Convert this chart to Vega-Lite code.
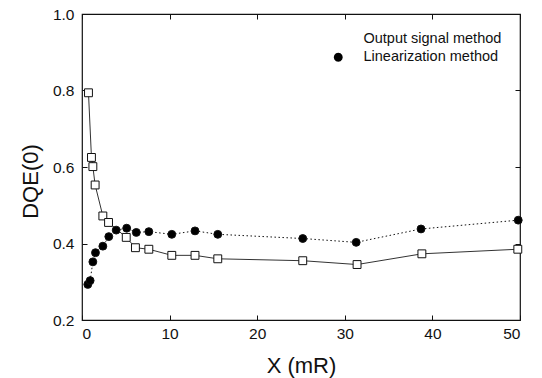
{
  "$schema": "https://vega.github.io/schema/vega-lite/v6.json",
  "width": 438,
  "height": 306,
  "autosize": {"type": "none"},
  "padding": {"left": 82, "top": 14, "right": 22, "bottom": 58},
  "background": "white",
  "config": {
    "font": "Liberation Sans",
    "view": {"stroke": "#111", "strokeWidth": 1.2},
    "axis": {"grid": false, "domain": false, "tickColor": "#111", "labelColor": "#111", "titleColor": "#111", "labelFont": "Liberation Sans", "titleFont": "Liberation Sans", "labelFontSize": 15.5, "titleFontSize": 22, "titleFontWeight": "normal"},
    "legend": {"title": null, "orient": "top-right", "offset": 18, "padding": 0, "symbolSize": 100, "symbolStrokeWidth": 1, "symbolStrokeColor": "#111", "labelFontSize": 14.5, "labelFont": "Liberation Sans", "labelColor": "#111", "labelOffset": 18, "rowPadding": 3}
  },
  "data": {
    "values": [
      {"method": "Output signal method", "x": 0.74, "y": 0.794},
      {"method": "Output signal method", "x": 1.08, "y": 0.625},
      {"method": "Output signal method", "x": 1.24, "y": 0.601},
      {"method": "Output signal method", "x": 1.5, "y": 0.553},
      {"method": "Output signal method", "x": 2.38, "y": 0.472},
      {"method": "Output signal method", "x": 3.03, "y": 0.455},
      {"method": "Output signal method", "x": 5.05, "y": 0.416},
      {"method": "Output signal method", "x": 6.1, "y": 0.389},
      {"method": "Output signal method", "x": 7.63, "y": 0.385},
      {"method": "Output signal method", "x": 10.25, "y": 0.369},
      {"method": "Output signal method", "x": 12.9, "y": 0.369},
      {"method": "Output signal method", "x": 15.5, "y": 0.36},
      {"method": "Output signal method", "x": 25.2, "y": 0.355},
      {"method": "Output signal method", "x": 31.4, "y": 0.345},
      {"method": "Output signal method", "x": 38.8, "y": 0.373},
      {"method": "Output signal method", "x": 49.75, "y": 0.385},
      {"method": "Linearization method", "x": 0.66, "y": 0.293},
      {"method": "Linearization method", "x": 0.93, "y": 0.303},
      {"method": "Linearization method", "x": 1.24, "y": 0.352},
      {"method": "Linearization method", "x": 1.54, "y": 0.376},
      {"method": "Linearization method", "x": 2.38, "y": 0.393},
      {"method": "Linearization method", "x": 3.06, "y": 0.418},
      {"method": "Linearization method", "x": 3.9, "y": 0.435},
      {"method": "Linearization method", "x": 5.1, "y": 0.44},
      {"method": "Linearization method", "x": 6.2, "y": 0.429},
      {"method": "Linearization method", "x": 7.63, "y": 0.431},
      {"method": "Linearization method", "x": 10.25, "y": 0.424},
      {"method": "Linearization method", "x": 12.9, "y": 0.433},
      {"method": "Linearization method", "x": 15.5, "y": 0.424},
      {"method": "Linearization method", "x": 25.2, "y": 0.413},
      {"method": "Linearization method", "x": 31.3, "y": 0.403},
      {"method": "Linearization method", "x": 38.7, "y": 0.438},
      {"method": "Linearization method", "x": 49.8, "y": 0.461}
    ]
  },
  "resolve": {"axis": {"x": "independent", "y": "independent"}},
  "layer": [
    {
      "transform": [{"filter": "datum.method === 'Output signal method'"}],
      "mark": {"type": "line", "strokeWidth": 1, "color": "#333333", "clip": false},
      "encoding": {
        "x": {"field": "x", "type": "quantitative", "scale": {"domain": [0, 50], "nice": false},
              "axis": {"orient": "bottom", "values": [0, 10, 20, 30, 40, 50], "tickSize": -5, "labelPadding": 11, "title": "X (mR)", "titleY": 52, "titleBaseline": "alphabetic"}},
        "y": {"field": "y", "type": "quantitative", "scale": {"domain": [0.2, 1.0], "nice": false, "zero": false},
              "axis": {"orient": "left", "values": [0.2, 0.4, 0.6, 0.8, 1.0], "format": ".1f", "tickSize": -5, "labelPadding": 13, "title": "DQE(0)", "titleX": -40, "titleY": 167, "titleBaseline": "bottom", "titleAngle": -90}}
      }
    },
    {
      "transform": [{"filter": "datum.method === 'Linearization method'"}],
      "mark": {"type": "line", "strokeWidth": 1, "color": "#111111", "strokeDash": [1.5, 2.5], "clip": false},
      "encoding": {
        "x": {"field": "x", "type": "quantitative", "axis": null},
        "y": {"field": "y", "type": "quantitative", "axis": null}
      }
    },
    {
      "transform": [{"filter": "datum.method === 'Output signal method'"}],
      "mark": {"type": "point", "shape": "square", "filled": false, "fill": "white", "stroke": "#111", "strokeWidth": 1, "opacity": 1, "size": 62, "clip": false},
      "encoding": {
        "x": {"field": "x", "type": "quantitative", "axis": {"orient": "top", "values": [0, 10, 20, 30, 40, 50], "tickSize": -5, "labels": false, "title": null}},
        "y": {"field": "y", "type": "quantitative", "axis": {"orient": "right", "values": [0.2, 0.4, 0.6, 0.8, 1.0], "tickSize": -5, "labels": false, "title": null}}
      }
    },
    {
      "transform": [{"filter": "datum.method === 'Linearization method'"}],
      "mark": {"type": "point", "shape": "circle", "filled": true, "fill": "black", "stroke": "#111", "strokeWidth": 1, "opacity": 1, "size": 62, "clip": false},
      "encoding": {
        "x": {"field": "x", "type": "quantitative", "axis": null},
        "y": {"field": "y", "type": "quantitative", "axis": null}
      }
    },
    {
      "transform": [{"filter": "false"}],
      "mark": {"type": "point", "strokeWidth": 1, "opacity": 1, "clip": false},
      "encoding": {
        "x": {"field": "x", "type": "quantitative", "axis": null},
        "y": {"field": "y", "type": "quantitative", "axis": null},
        "fill": {"field": "method", "type": "nominal", "scale": {"domain": ["Output signal method", "Linearization method"], "range": ["white", "black"]}},
        "shape": {"field": "method", "type": "nominal", "scale": {"domain": ["Output signal method", "Linearization method"], "range": ["M-4.4,0H-0.8M0.8,0H4.4M-0.8,-0.8H0.8V0.8H-0.8Z", "M-4.4,0H-4.1M-3.7,0H-3.4M-3,0H-2.7M-2.3,0H-2M-1.6,0H-1.3M1.3,0H1.6M2,0H2.3M2.7,0H3M3.4,0H3.7M4.1,0H4.4M0.9,0L0.779,0.45L0.45,0.779L0,0.9L-0.45,0.779L-0.779,0.45L-0.9,0L-0.779,-0.45L-0.45,-0.779L0,-0.9L0.45,-0.779L0.779,-0.45Z"]}},
        "stroke": {"value": "#111"},
        "size": {"value": 100}
      }
    }
  ]
}
